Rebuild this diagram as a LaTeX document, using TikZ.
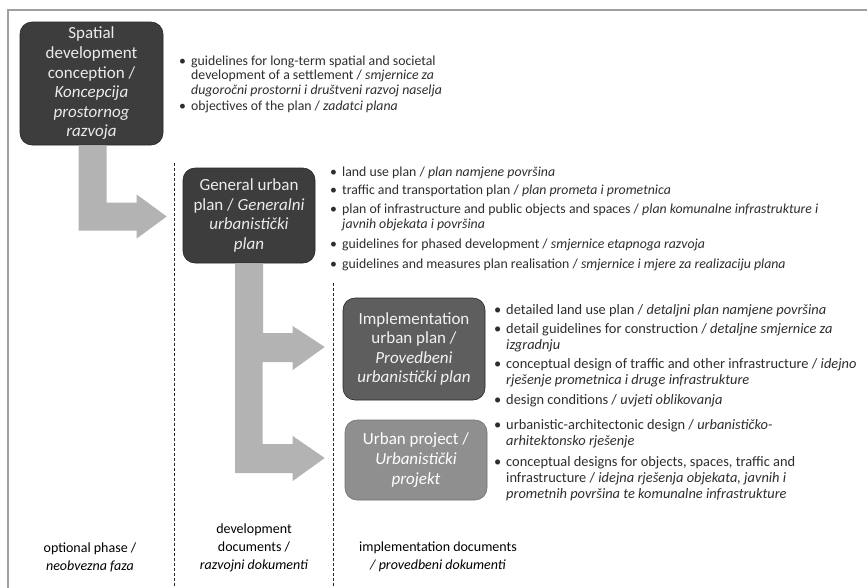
\documentclass[tikz,border=0pt]{standalone}
\usepackage{fontspec}
\setmainfont{Carlito}
\usetikzlibrary{calc}
\definecolor{dk}{HTML}{3D3D3D}
\definecolor{md}{HTML}{5E5E5E}
\definecolor{lt}{HTML}{8F8F8F}
\definecolor{arrgray}{HTML}{B3B3B3}
\definecolor{txt}{HTML}{2E2E2E}
\definecolor{framegray}{HTML}{A0A0A0}
\newcommand\bxfnt{\fontsize{17}{19.6}\selectfont}
\newcommand\lbfnt{\fontsize{14}{18}\selectfont}
\newcommand\bul[1]{\rule{0pt}{12pt}\makebox[12pt][l]{•}\begin{tabular}[t]{@{}l@{}}#1\end{tabular}}
\begin{document}
\begin{tikzpicture}[x=1pt,y=-1pt,
  boxnode/.style={rounded corners=12pt, draw=black!85, line width=0.6pt, align=center, font=\bxfnt, inner sep=0pt},
  itemnode/.style={anchor=north west, inner sep=0pt, text=txt},
  lista/.style={itemnode, font=\fontsize{13.8}{14.7}\selectfont},
  listb/.style={itemnode, font=\fontsize{13.8}{15.2}\selectfont},
  listc/.style={itemnode, font=\fontsize{14.4}{16}\selectfont},
  listd/.style={itemnode, font=\fontsize{14.4}{16}\selectfont},
  lbl/.style={align=center, font=\lbfnt, text=black, inner sep=0pt},
  arrowshape/.style={fill=arrgray, draw=none},
  sep/.style={draw=black!85, line width=1pt, dash pattern=on 3pt off 2pt}]
\useasboundingbox (0,0) rectangle (867,587);
\fill[white] (0,0) rectangle (867,587);
% frame
\draw[framegray, line width=1.2pt] (8,590) -- (8,10) -- (870,10);
% separators
\coordinate (d1t) at (174,163);
\coordinate (d1b) at (174,590);
\coordinate (d2t) at (333,283);
\coordinate (d2b) at (333,590);
\draw[sep] (d1t) -- (d1b);
\draw[sep] (d2t) -- (d2b);
% boxes
\node[boxnode, fill=dk, text=white!92!black, minimum width=143pt, minimum height=123pt] (b1) at (91.5,83.5)
  {Spatial\\development\\conception /\\\textit{Koncepcija}\\\textit{prostornog}\\\textit{razvoja}};
\node[boxnode, fill=dk, text=white!92!black, minimum width=132pt, minimum height=95pt] (b2) at (249,215.5)
  {General urban\\plan / \textit{Generalni}\\\textit{urbanistički}\\\textit{plan}};
\node[boxnode, fill=md, text=white!95!black, minimum width=142pt, minimum height=102pt] (b3) at (414,349)
  {Implementation\\urban plan /\\\textit{Provedbeni}\\\textit{urbanistički plan}};
\node[boxnode, fill=lt, draw=lt!80!black, text=white, minimum width=142pt, minimum height=80pt] (b4) at (416,460)
  {Urban project /\\\textit{Urbanistički}\\\textit{projekt}};
% block arrows
\fill[arrowshape] ($(b1.south)+(-13,0)$) coordinate (a1) -- ++(28,0)
  |- ($(b2.west)+(-46,-13)$) -- ++(0,-8) -- ($(b2.west)+(-16,1)$)
  -- ($(b2.west)+(-46,23)$) -- ++(0,-8) -| (a1) -- cycle;
\fill[arrowshape] ($(b2.south)+(-14,0)$) coordinate (a2) -- ++(28,0)
  |- ($(b3.west)+(-50,-16)$) -- ++(0,-7) -- ($(b3.west)+(-18,-2)$)
  -- ($(b3.west)+(-50,21)$) -- ++(0,-8) -| ($(b4.west)+(-82,-16)$)
  -- ($(b4.west)+(-52,-16)$) -- ++(0,-8) -- ($(b4.west)+(-20,-2)$)
  -- ($(b4.west)+(-52,21)$) -- ++(0,-8) -| (a2) -- cycle;
% bullet lists
\node[lista] (i11) at (179,53) {\bul{guidelines for long-term spatial and societal\\development of a settlement / \textit{smjernice za}\\\textit{dugoročni prostorni i društveni razvoj naselja}}};
\node[lista] (i12) at (179,98) {\bul{objectives of the plan / \textit{zadatci plana}}};
\node[listb] (i21) at (330,164) {\bul{land use plan / \textit{plan namjene površina}}};
\node[listb] (i22) at (330,182) {\bul{traffic and transportation plan / \textit{plan prometa i prometnica}}};
\node[listb] (i23) at (330,201) {\bul{plan of infrastructure and public objects and spaces / \textit{plan komunalne infrastrukture i}\\\textit{javnih objekata i površina}}};
\node[listb] (i24) at (330,236) {\bul{guidelines for phased development / \textit{smjernice etapnoga razvoja}}};
\node[listb] (i25) at (330,256) {\bul{guidelines and measures plan realisation / \textit{smjernice i mjere za realizaciju plana}}};
\node[listc] (i31) at (494,302) {\bul{detailed land use plan / \textit{detaljni plan namjene površina}}};
\node[listc] (i32) at (494,321) {\bul{detail guidelines for construction / \textit{detaljne smjernice za}\\\textit{izgradnju}}};
\node[listc] (i33) at (494,356) {\bul{conceptual design of traffic and other infrastructure / \textit{idejno}\\\textit{rješenje prometnica i druge infrastrukture}}};
\node[listc] (i34) at (494,392) {\bul{design conditions / \textit{uvjeti oblikovanja}}};
\node[listd] (i41) at (494,417) {\bul{urbanistic-architectonic design / \textit{urbanističko-}\\\textit{arhitektonsko rješenje}}};
\node[listd] (i42) at (494,454) {\bul{conceptual designs for objects, spaces, traffic and\\infrastructure / \textit{idejna rješenja objekata, javnih i}\\\textit{prometnih površina te komunalne infrastrukture}}};
% bottom labels
\node[lbl] (l1) at (90,557) {optional phase /\\\textit{neobvezna faza}};
\node[lbl] (l2) at (254,548) {development\\documents /\\\textit{razvojni dokumenti}};
\node[lbl] (l3) at (438,557) {implementation documents\\\textit{/ provedbeni dokumenti}};
\end{tikzpicture}
\end{document}
